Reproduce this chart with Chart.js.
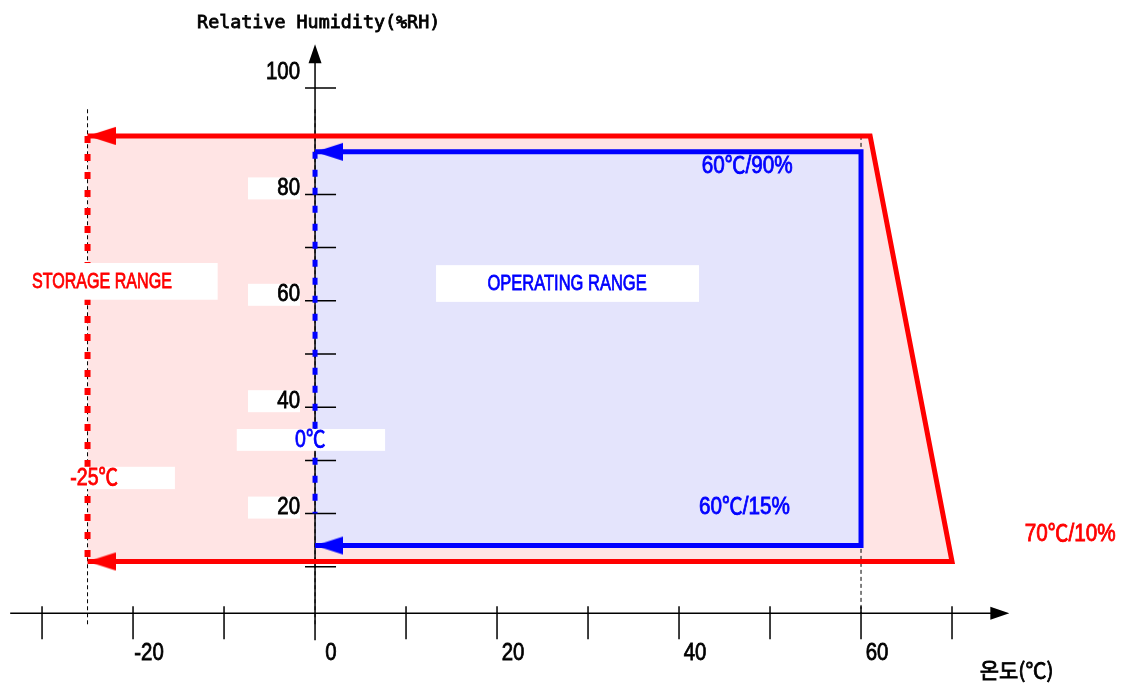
<!DOCTYPE html>
<html>
<head>
<meta charset="utf-8">
<script src="https://cdn.jsdelivr.net/npm/chart.js@4/dist/chart.umd.min.js"></script>
<style>
  html, body { margin: 0; padding: 0; background: #fff; }
  #wrap { width: 1126px; height: 683px; }
</style>
</head>
<body>
<div id="wrap"><canvas id="rhChart" width="1126" height="683"></canvas></div>
<script>
// corners of the two ranges: temperature (C) / relative humidity (%RH)
var storageTemp = [-25, 61, 70, -25];
var storageRH = [91, 91, 11, 11];
var operatingTemp = [0, 60, 60, 0];
var operatingRH = [88, 88, 14, 14];
var operatingEdgeRH = [88, 20];

// thin dashed guides
var guideTemp = [-25, 0, 60];
var guideTop = [96, 96, 91];
var guideBottom = [-1, -1, 1.3];

// axis ticks
var xTicks = [-30, -20, -10, 0, 10, 20, 30, 40, 50, 60, 70];
var xTickLabels = [-20, 0, 20, 40, 60];
var yTicks = [10, 20, 30, 40, 50, 60, 70, 80, 100];
var yTickLabels = [20, 40, 60, 80, 100];

var RED = '#ff0000', BLUE = '#0000ff';
var PINK = '#ffe4e4', LAVENDER = '#e4e4fc';
var SANS = '"Liberation Sans", Arial, "Noto Sans CJK KR", sans-serif';

// text notes, placed in data units; sx = horizontal squeeze
var notes = [
    {text: 'Relative Humidity(%RH)', t: 0.4, rh: 112.1, align: 'center', color: '#000', font: '18px "DejaVu Sans Mono", monospace', sx: 1.02},
    {text: '온도(℃)', t: 77.1, rh: -9.4, align: 'center', color: '#000', font: '21px "Noto Sans CJK KR", sans-serif', sx: 1},
    {text: 'STORAGE RANGE', t: -31.1, rh: 63.5, align: 'left', color: RED, font: '22px ' + SANS, sx: 0.73, box: [-31.9, 67.1, -10.7, 60.2]},
    {text: '-25℃', t: -26.9, rh: 26.5, align: 'left', color: RED, font: '23px ' + SANS, sx: 0.85, box: [-27.8, 28.8, -15.4, 24.6]},
    {text: '0℃', t: -2.2, rh: 33.8, align: 'left', color: BLUE, font: '23px ' + SANS, sx: 0.85, box: [-8.6, 35.9, 7.7, 31.8]},
    {text: 'OPERATING RANGE', t: 27.7, rh: 63.2, align: 'center', color: BLUE, font: '22px ' + SANS, sx: 0.75, box: [13.3, 66.7, 42.2, 59.8]},
    {text: '60℃/90%', t: 42.5, rh: 85.3, align: 'left', color: BLUE, font: '23px ' + SANS, sx: 0.9},
    {text: '60℃/15%', t: 42.2, rh: 21.2, align: 'left', color: BLUE, font: '23px ' + SANS, sx: 0.9},
    {text: '70℃/10%', t: 78.0, rh: 16.0, align: 'left', color: RED, font: '23px ' + SANS, sx: 0.9}
];

var xAxisAt = 1.26;              // humidity where the temperature axis crosses
var xAxisSpan = [-33.5, 76.3];
var yAxisSpan = [-3.8, 108.2];

function pts(xs, ys) {
    return xs.map(function (x, i) { return {x: x, y: ys[i]}; });
}

// arrow head whose tip sits at the centre of the canvas, pointing left
function makeArrow(color) {
    var len = 28, half = 9;
    var c = document.createElement('canvas');
    c.width = len * 2;
    c.height = half * 2 + 2;
    var g = c.getContext('2d');
    g.fillStyle = color;
    g.beginPath();
    g.moveTo(len, half + 1);
    g.lineTo(len * 2, 1);
    g.lineTo(len * 2, half * 2 + 1);
    g.closePath();
    g.fill();
    return c;
}

function endRadius(ctx) {
    var n = ctx.dataset.data.length;
    return (ctx.dataIndex === 0 || ctx.dataIndex === n - 1) ? 6 : 0;
}

function guide(i) {
    return {
        data: pts([guideTemp[i], guideTemp[i]], [guideTop[i], guideBottom[i]]),
        borderColor: '#000', borderWidth: 1, borderDash: [4, 3],
        pointRadius: 0, fill: false, order: 5
    };
}

// text squeezed horizontally and a little heavier, like the original font
function squeezed(ctx, text, x, y, align, sx) {
    ctx.save();
    ctx.translate(x, y);
    ctx.scale(sx, 1);
    ctx.textAlign = align;
    ctx.strokeStyle = ctx.fillStyle;
    ctx.lineWidth = 0.8;
    ctx.fillText(text, 0, 0);
    ctx.strokeText(text, 0, 0);
    ctx.restore();
}

function drawAxes(chart) {
    var ctx = chart.ctx, xs = chart.scales.x, ys = chart.scales.y;
    var ax = xs.getPixelForValue(0), ay = ys.getPixelForValue(xAxisAt);
    var x0 = xs.getPixelForValue(xAxisSpan[0]), x1 = xs.getPixelForValue(xAxisSpan[1]);
    var yb = ys.getPixelForValue(yAxisSpan[0]), yt = ys.getPixelForValue(yAxisSpan[1]);
    ctx.save();
    ctx.strokeStyle = '#000';
    ctx.fillStyle = '#000';
    ctx.lineWidth = 1.5;
    ctx.beginPath();
    ctx.moveTo(x0, ay); ctx.lineTo(x1 - 15, ay);
    ctx.moveTo(ax, yb); ctx.lineTo(ax, yt + 15);
    xTicks.forEach(function (v) {
        var p = xs.getPixelForValue(v);
        ctx.moveTo(p, ay - 7); ctx.lineTo(p, ay + 26);
    });
    yTicks.forEach(function (v) {
        var p = ys.getPixelForValue(v);
        ctx.moveTo(ax - 10, p); ctx.lineTo(ax + 21, p);
    });
    ctx.stroke();
    ctx.beginPath();
    ctx.moveTo(x1, ay); ctx.lineTo(x1 - 19, ay - 6.5); ctx.lineTo(x1 - 19, ay + 6.5); ctx.closePath();
    ctx.moveTo(ax, yt); ctx.lineTo(ax - 6.5, yt + 19); ctx.lineTo(ax + 6.5, yt + 19); ctx.closePath();
    ctx.fill();
    ctx.restore();
}

function drawLabels(chart) {
    var ctx = chart.ctx, xs = chart.scales.x, ys = chart.scales.y;
    var ax = xs.getPixelForValue(0), ay = ys.getPixelForValue(xAxisAt);
    ctx.save();
    ctx.textBaseline = 'middle';

    ctx.font = '24px ' + SANS;
    ctx.fillStyle = '#000';
    xTickLabels.forEach(function (v) {
        squeezed(ctx, String(v), xs.getPixelForValue(v) + 16, ay + 40, 'center', 0.85);
    });
    yTickLabels.forEach(function (v) {
        var p = ys.getPixelForValue(v) + (v === 100 ? -16 : -6);
        if (v !== 100) {
            ctx.fillStyle = '#fff';
            ctx.fillRect(ax - 67, p - 11, 52, 22);
        }
        ctx.fillStyle = '#000';
        squeezed(ctx, String(v), ax - 15, p, 'right', 0.85);
    });

    notes.forEach(function (n) {
        if (n.box) {
            var bx0 = xs.getPixelForValue(n.box[0]), by0 = ys.getPixelForValue(n.box[1]);
            var bx1 = xs.getPixelForValue(n.box[2]), by1 = ys.getPixelForValue(n.box[3]);
            ctx.fillStyle = '#fff';
            ctx.fillRect(bx0, by0, bx1 - bx0, by1 - by0);
        }
        ctx.font = n.font;
        ctx.fillStyle = n.color;
        squeezed(ctx, n.text, xs.getPixelForValue(n.t), ys.getPixelForValue(n.rh), n.align, n.sx);
    });
    ctx.restore();
}

var rangePlugin = {
    id: 'rangePlugin',
    afterDatasetDraw: function (chart, args) {
        if (args.index === 7) drawAxes(chart);
    },
    afterDatasetsDraw: function (chart) {
        drawLabels(chart);
    }
};

document.addEventListener("DOMContentLoaded", function () {
    var ctx = document.getElementById('rhChart').getContext('2d');
    var redArrow = makeArrow(RED), blueArrow = makeArrow(BLUE);
    var rhChart = new Chart(ctx, {
        type: 'line',
        data: {
            datasets: [{
                label: 'Operating',
                data: pts(operatingTemp, operatingRH),
                borderColor: BLUE, borderWidth: 5, fill: false,
                pointStyle: blueArrow, pointRadius: endRadius, order: 1
            }, {
                label: 'Storage',
                data: pts(storageTemp, storageRH),
                borderColor: RED, borderWidth: 5, fill: false,
                pointStyle: redArrow, pointRadius: endRadius, order: 2
            }, {
                label: 'Operating 0C',
                data: pts([operatingTemp[0], operatingTemp[0]], operatingEdgeRH),
                borderColor: BLUE, borderWidth: 5, borderDash: [7, 11], borderCapStyle: 'butt',
                pointRadius: 0, fill: false, order: 3
            }, {
                label: 'Storage -25C',
                data: pts([storageTemp[0], storageTemp[3]], [storageRH[0], storageRH[3]]),
                borderColor: RED, borderWidth: 6, borderDash: [7, 11], borderCapStyle: 'butt',
                pointRadius: 0, fill: false, order: 4
            },
            guide(0), guide(1), guide(2),
            {
                label: 'Operating area',
                data: pts(operatingTemp.slice(0, 2), operatingRH.slice(0, 2)),
                borderColor: 'rgba(0,0,0,0)', borderWidth: 0, pointRadius: 0,
                backgroundColor: LAVENDER, fill: {value: operatingRH[2]}, order: 8
            }, {
                label: 'Storage area',
                data: pts(storageTemp.slice(0, 3), storageRH.slice(0, 3)),
                borderColor: 'rgba(0,0,0,0)', borderWidth: 0, pointRadius: 0,
                backgroundColor: PINK, fill: {value: storageRH[3]}, order: 9
            }]
        },
        options: {
            responsive: false,
            animation: false,
            events: [],
            layout: { padding: 0, autoPadding: false },
            plugins: { legend: { display: false }, tooltip: { enabled: false } },
            scales: {
                x: { type: 'linear', min: -34.62, max: 89.12, display: false },
                y: { type: 'linear', min: -11.84, max: 116.54, display: false }
            }
        },
        plugins: [rangePlugin]
    });
});
</script>
</body>
</html>
